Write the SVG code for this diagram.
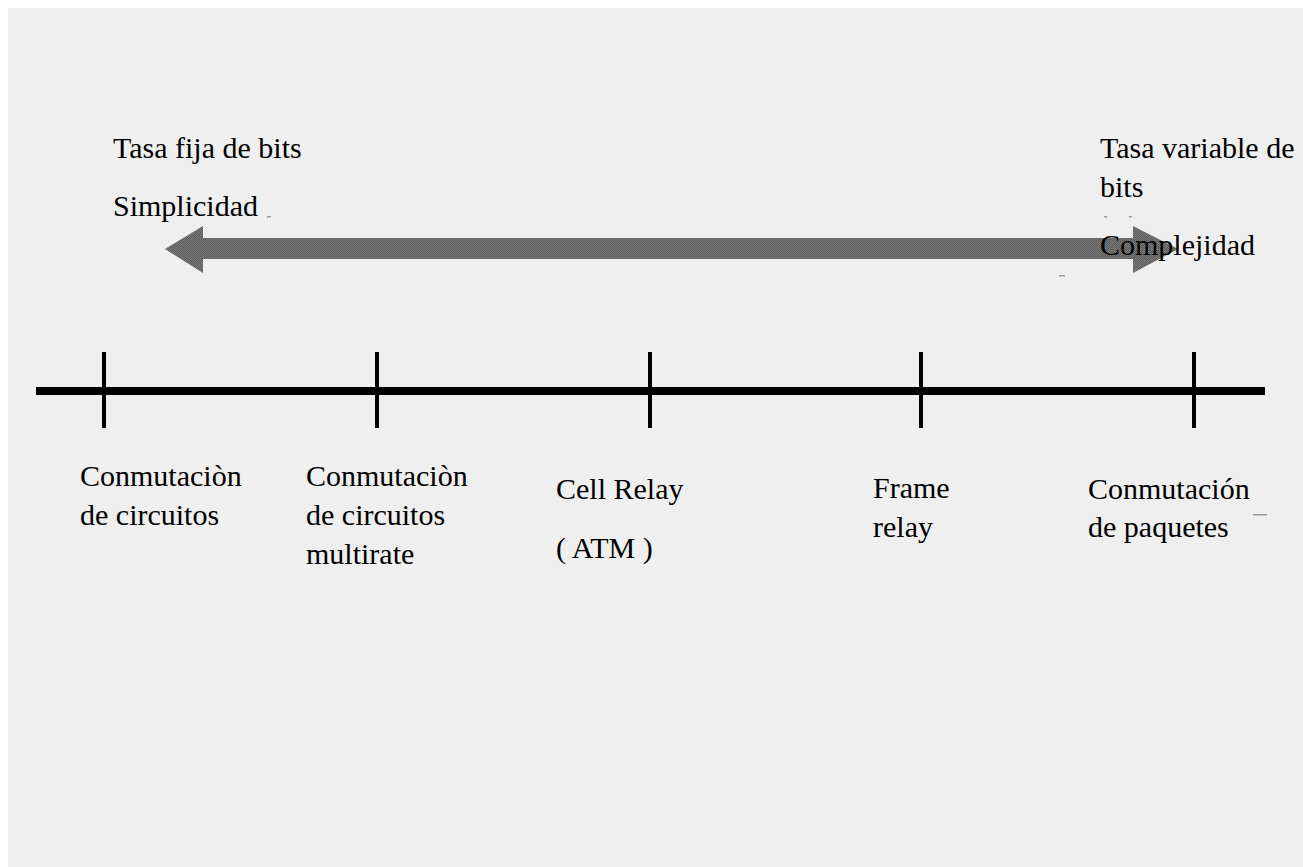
<svg xmlns="http://www.w3.org/2000/svg" width="1303" height="867" viewBox="0 0 1303 867">
  <style>
    .lbl { font-family: "Liberation Serif", "Times New Roman", serif; font-size: 30px; fill: #000; }
    .axis { stroke: #000; stroke-width: 8; }
    .tick { stroke: #000; stroke-width: 4; }
    .speck { fill: #9a9a9a; }
  </style>
  <defs>
    <pattern id="dither" width="2" height="2" patternUnits="userSpaceOnUse">
      <rect width="2" height="2" fill="#7a7a7a"/>
      <rect width="1" height="1" fill="#5c5c5c"/>
      <rect x="1" y="1" width="1" height="1" fill="#5c5c5c"/>
    </pattern>
  </defs>

  <rect width="1303" height="867" fill="#ffffff"/>
  <rect x="8" y="8" width="1295" height="859" fill="#efefef"/>

  <!-- double-headed range arrow -->
  <g id="range-arrow">
    <polygon points="165,249 203,226 203,238 1133,238 1133,226 1178,249 1133,273 1133,259 203,259 203,273" fill="url(#dither)"/>
  </g>

  <!-- upper labels -->
  <g id="left-end">
    <text class="lbl" x="113" y="158">Tasa fija de bits</text>
    <text class="lbl" x="113" y="216">Simplicidad</text>
  </g>
  <g id="right-end">
    <text class="lbl" x="1100" y="158">Tasa variable de</text>
    <text class="lbl" x="1100" y="197">bits</text>
    <text class="lbl" x="1100" y="255">Complejidad</text>
  </g>

  <!-- axis with tick marks -->
  <g id="connectors">
    <line class="axis" x1="36" y1="391" x2="1265" y2="391"/>
    <line class="tick" x1="104" y1="352" x2="104" y2="428"/>
    <line class="tick" x1="377" y1="352" x2="377" y2="428"/>
    <line class="tick" x1="650" y1="352" x2="650" y2="428"/>
    <line class="tick" x1="921" y1="352" x2="921" y2="428"/>
    <line class="tick" x1="1194" y1="352" x2="1194" y2="428"/>
  </g>

  <g id="circuit-switching">
    <text class="lbl" x="80" y="486">Conmutaciòn</text>
    <text class="lbl" x="80" y="525">de circuitos</text>
  </g>
  <g id="multirate-circuit-switching">
    <text class="lbl" x="306" y="486">Conmutaciòn</text>
    <text class="lbl" x="306" y="525">de circuitos</text>
    <text class="lbl" x="306" y="564">multirate</text>
  </g>
  <g id="cell-relay">
    <text class="lbl" x="556" y="499">Cell Relay</text>
    <text class="lbl" x="556" y="558">( ATM )</text>
  </g>
  <g id="frame-relay">
    <text class="lbl" x="873" y="498">Frame</text>
    <text class="lbl" x="873" y="537">relay</text>
  </g>
  <g id="packet-switching">
    <text class="lbl" x="1088" y="499">Conmutación</text>
    <text class="lbl" x="1088" y="537">de paquetes</text>
  </g>

  <!-- small stray marks -->
  <g id="marks">
    <rect class="speck" x="1253" y="514" width="14" height="1.5"/>
    <rect class="speck" x="1059" y="275" width="6" height="1.5"/>
    <rect class="speck" x="267" y="216" width="4" height="1.5"/>
    <rect class="speck" x="1104" y="216" width="3" height="1.5"/>
    <rect class="speck" x="1129" y="216" width="3" height="1.5"/>
  </g>
</svg>
